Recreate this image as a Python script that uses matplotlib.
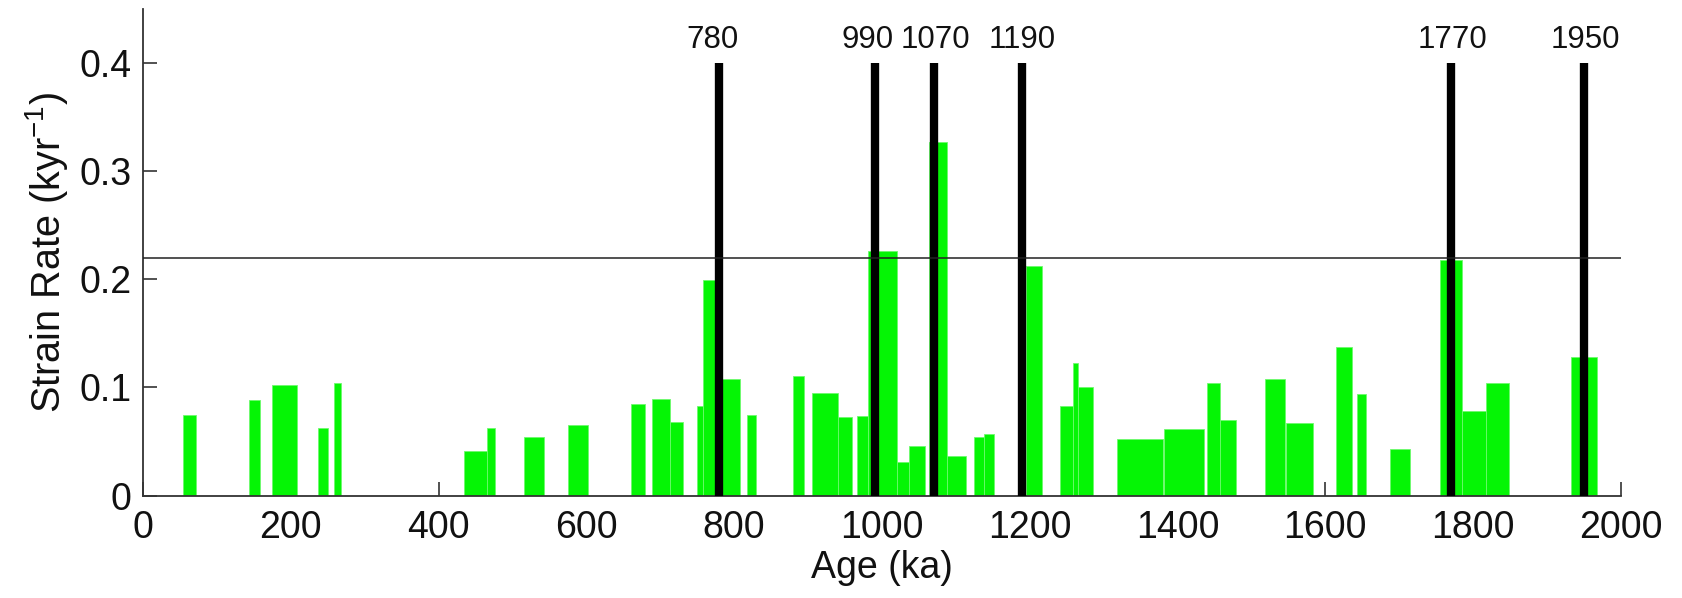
import matplotlib
matplotlib.use("Agg")
import matplotlib.pyplot as plt

plt.rcParams['font.family'] = ['Liberation Sans', 'DejaVu Sans']
plt.rcParams['mathtext.fontset'] = 'custom'
plt.rcParams['mathtext.rm'] = 'Liberation Sans'
plt.rcParams['mathtext.it'] = 'Liberation Sans:italic'

# Bars: start age, end age (ka), strain rate (kyr^-1)
bar_start = [54, 144, 175, 237, 258, 435, 466, 516, 575, 661, 689, 713, 749.5, 758,
             783, 818, 879, 906, 940, 966, 981, 1020, 1036, 1064, 1088, 1125, 1138,
             1195, 1241, 1258, 1265, 1318, 1381, 1440, 1458, 1518, 1547, 1615, 1643.5,
             1687, 1755, 1785, 1818, 1932.5]
bar_end = [71.5, 158.5, 208, 250, 268, 466, 477, 542, 602, 680, 713, 731, 758, 775,
           808.5, 830, 894, 940, 959, 981, 1020, 1036, 1058, 1088, 1114, 1138, 1151,
           1217, 1258, 1265, 1285, 1380, 1436, 1458, 1479, 1545, 1583, 1636, 1655.5,
           1714, 1785, 1818, 1848, 1967]
bar_rate = [0.0745, 0.0886, 0.102, 0.063, 0.104, 0.0415, 0.063, 0.054, 0.0657, 0.0844,
            0.0896, 0.0685, 0.0833, 0.199, 0.108, 0.0749, 0.1107, 0.0949, 0.0731, 0.0738,
            0.226, 0.0316, 0.0457, 0.327, 0.0369, 0.0545, 0.0573, 0.212, 0.0833, 0.123,
            0.100, 0.052, 0.0615, 0.104, 0.0703, 0.108, 0.0668, 0.137, 0.094, 0.0429,
            0.218, 0.078, 0.1037, 0.128]

event_ages = [780, 990, 1070, 1190, 1770, 1950]
event_labels = ['780', '990', '1070', '1190', '1770', '1950']
threshold = 0.22
event_top = 0.4

x_ticks = [0, 200, 400, 600, 800, 1000, 1200, 1400, 1600, 1800, 2000]
y_ticks = [0, 0.1, 0.2, 0.3, 0.4]
y_tick_labels = ['0', '0.1', '0.2', '0.3', '0.4']

fig = plt.figure(figsize=(16.82, 5.98), dpi=100)
ax = fig.add_axes([0.085, 0.171, 0.8787, 0.8146])

widths = [e - s for s, e in zip(bar_start, bar_end)]
ax.bar(bar_start, bar_rate, width=widths, align='edge', color='#05f505',
       edgecolor='#6dfa6d', linewidth=0.6, zorder=2)

ax.plot([0, 2000], [threshold, threshold], color='#222222', lw=1.1, zorder=4)

for age, lab in zip(event_ages, event_labels):
    ax.plot([age, age], [0, event_top], color='black', lw=6, solid_capstyle='butt', zorder=3)
    ax.annotate(lab, xy=(age, 0.4135), xytext=(-24, 0), textcoords='offset points',
                ha='left', va='baseline', fontsize=22.5, color='#111111')

ax.set_xlim(0, 2000)
ax.set_ylim(0, 0.45)
ax.set_xticks(x_ticks)
ax.set_yticks(y_ticks)
ax.set_yticklabels(y_tick_labels)

for side in ['top', 'right']:
    ax.spines[side].set_visible(False)
for side in ['left', 'bottom']:
    ax.spines[side].set_color('#333333')
    ax.spines[side].set_linewidth(1.3)

ax.tick_params(axis='both', direction='in', length=10, width=1.2, color='#333333',
               labelsize=27, labelcolor='#111111')
ax.tick_params(axis='x', pad=10)
ax.tick_params(axis='y', pad=8)

ax.set_xlabel('Age (ka)', fontsize=27, color='#111111', labelpad=3)
ax.set_ylabel('Strain Rate (kyr$^{-1}$)', fontsize=28.5, color='#111111', labelpad=7)

fig.savefig('out.png', dpi=100)
